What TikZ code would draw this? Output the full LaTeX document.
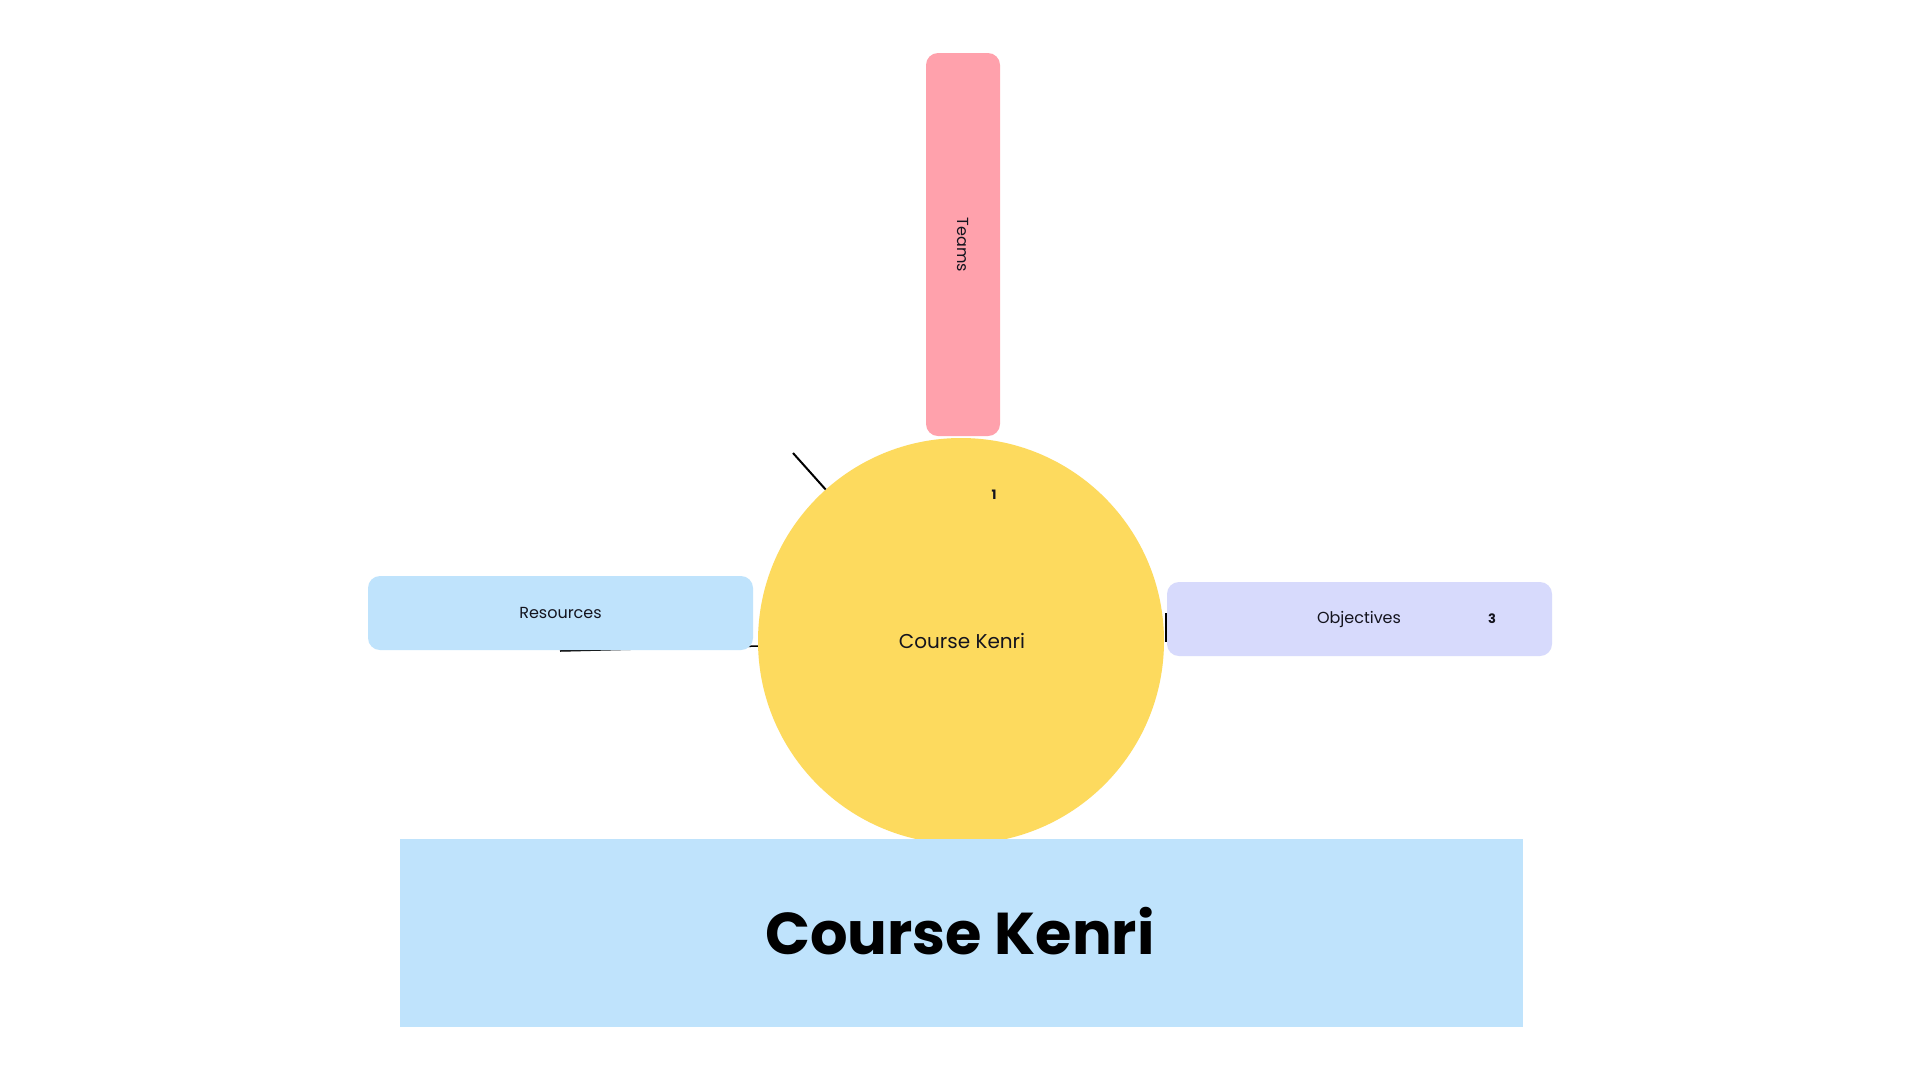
\documentclass[tikz,border=0pt]{standalone}
\usepackage{fontspec}
\setmainfont{Poppins}
\definecolor{pinkc}{RGB}{255,161,172}
\definecolor{yellowc}{RGB}{253,218,94}
\definecolor{bluec}{RGB}{191,227,252}
\definecolor{lavc}{RGB}{215,218,252}
\definecolor{txt}{RGB}{20,20,30}
\begin{document}
\begin{tikzpicture}[x=1pt,y=-1pt,
  card/.style={rectangle,rounded corners=12pt,inner sep=0pt,text=txt,font=\fontsize{16}{18}\selectfont},
  link/.style={draw=black,line width=2pt}]
\useasboundingbox[fill=white] (0,0) rectangle (1920,1080);
\node[circle,fill=yellowc,minimum size=406pt,inner sep=0pt,text=txt,font=\fontsize{20}{24}\selectfont] (circ) at (961,641) {};
\node[text=txt,font=\fontsize{20}{24}\selectfont] (ctext) at (962,641) {Course Kenri};
\node[text=txt,font=\fontsize{13}{15}\selectfont\bfseries] (one) at (994,495) {1};
\coordinate (l1) at (793,453);
\draw[link] (l1) -- (circ);
\coordinate (l2) at (560,651);
\draw[link,line width=1.5pt] (l2) -- (circ);
\coordinate (l3a) at (1166,613);
\coordinate (l3b) at (1166,642);
\draw[link] (l3a) -- (l3b);
\node[card,fill=pinkc,minimum width=74pt,minimum height=383pt] (teams) at (963,244.5) {};
\node[rotate=-90,text=txt,font=\fontsize{16}{18}\selectfont] (teamst) at (963,245) {Teams};
\node[card,fill=bluec,minimum width=385pt,minimum height=74pt] (res) at (560.5,613) {Resources};
\node[card,fill=lavc,minimum width=385pt,minimum height=74pt] (obj) at (1359.5,619) {};
\node[text=txt,font=\fontsize{16}{18}\selectfont] (objt) at (1359,619) {Objectives};
\node[text=txt,font=\fontsize{13}{15}\selectfont\bfseries] (three) at (1492,619) {3};
\node[rectangle,fill=bluec,minimum width=1123pt,minimum height=188pt,inner sep=0pt] (title) at (961.5,933) {};
\node[text=black,font=\fontsize{59}{66}\selectfont\bfseries] (titlet) at (960,931) {Course Kenri};
\end{tikzpicture}
\end{document}
